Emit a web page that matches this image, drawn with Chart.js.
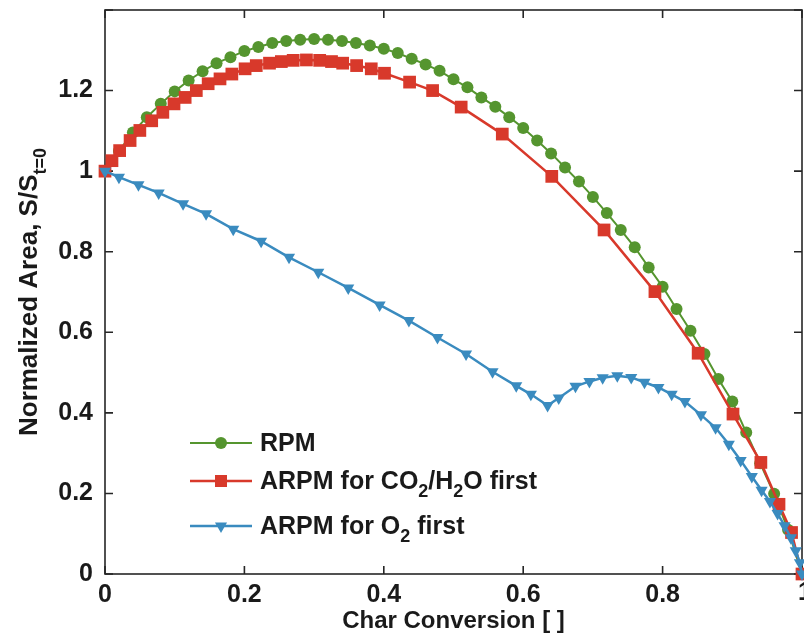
<!DOCTYPE html>
<html><head><meta charset="utf-8">
<script src="https://cdn.jsdelivr.net/npm/chart.js@4.4.1/dist/chart.umd.min.js"></script>
<style>html,body{margin:0;padding:0;background:#fff;overflow:hidden;}canvas{display:block;}</style>
</head><body><canvas id="c" width="804" height="638" style="width:804px;height:638px;"></canvas>
<script>
// ---- data ----
const rpmX = [0,0.02,0.04,0.06,0.08,0.10,0.12,0.14,0.16,0.18,0.20,0.22,0.24,0.26,0.28,0.30,0.32,0.34,0.36,0.38,0.40,0.42,0.44,0.46,0.48,0.50,0.52,0.54,0.56,0.58,0.60,0.62,0.64,0.66,0.68,0.70,0.72,0.74,0.76,0.78,0.80,0.82,0.84,0.86,0.88,0.90,0.92,0.94,0.96,0.98,1.00];
const rpmY = [1.000,1.050,1.096,1.134,1.167,1.198,1.225,1.248,1.268,1.283,1.298,1.308,1.318,1.323,1.326,1.328,1.326,1.323,1.318,1.312,1.304,1.293,1.279,1.265,1.249,1.228,1.208,1.183,1.160,1.134,1.107,1.076,1.044,1.009,0.974,0.936,0.896,0.854,0.811,0.761,0.713,0.658,0.604,0.546,0.484,0.428,0.351,0.275,0.199,0.110,0.000];

const co2X = [0,0.010,0.021,0.036,0.050,0.067,0.083,0.099,0.115,0.131,0.148,0.165,0.182,0.201,0.217,0.236,0.253,0.270,0.289,0.308,0.325,0.341,0.361,0.382,0.401,0.437,0.470,0.511,0.570,0.641,0.716,0.789,0.851,0.901,0.941,0.967,0.985,1.000];
const co2Y = [1.000,1.026,1.051,1.076,1.101,1.125,1.146,1.167,1.183,1.200,1.217,1.229,1.241,1.254,1.262,1.268,1.272,1.275,1.276,1.275,1.272,1.268,1.262,1.254,1.243,1.221,1.200,1.159,1.092,0.987,0.854,0.701,0.548,0.397,0.277,0.173,0.103,0.000];

const o2X = [0,0.020,0.048,0.077,0.112,0.145,0.184,0.224,0.264,0.306,0.349,0.394,0.436,0.477,0.518,0.556,0.590,0.611,0.635,0.651,0.675,0.695,0.714,0.735,0.755,0.774,0.794,0.813,0.832,0.855,0.876,0.895,0.912,0.928,0.942,0.954,0.965,0.975,0.984,0.991,0.997,1.000];
const o2Y = [1.000,0.985,0.966,0.946,0.919,0.894,0.856,0.826,0.786,0.749,0.710,0.668,0.629,0.587,0.546,0.502,0.467,0.446,0.418,0.437,0.466,0.478,0.487,0.492,0.488,0.476,0.463,0.446,0.428,0.395,0.363,0.322,0.282,0.242,0.208,0.180,0.150,0.120,0.090,0.058,0.028,0.000];

const seriesNames = ['RPM', 'ARPM for CO2/H2O first', 'ARPM for O2 first'];
const legendMarkup = ['RPM', 'ARPM for CO_2/H_2O first', 'ARPM for O_2 first'];
const xTickLabels = ['0', '0.2', '0.4', '0.6', '0.8', '1'];
const yTickLabels = ['0', '0.2', '0.4', '0.6', '0.8', '1', '1.2'];
const xTitle = 'Char Conversion [ ]';
const yTitleMain = 'Normalized Area, S/S';
const yTitleSub = 't=0';

// ---- styling ----
const FONT = '"Liberation Sans", Arial, Helvetica, sans-serif';
const TICKFONT = {family: FONT, size: 25, weight: 'bold'};
const colors = ['#55952f', '#d8392b', '#3a8bbf'];
const toPts = (xs, ys) => xs.map((v, i) => ({x: v, y: ys[i]}));

const datasets = [
  {label: seriesNames[0], data: toPts(rpmX, rpmY), borderColor: colors[0], backgroundColor: colors[0],
   borderWidth: 2, pointStyle: 'circle', pointRadius: 6, order: 3},
  {label: seriesNames[1], data: toPts(co2X, co2Y), borderColor: colors[1], backgroundColor: colors[1],
   borderWidth: 2.5, pointStyle: 'rect', pointRadius: 9, order: 2},
  {label: seriesNames[2], data: toPts(o2X, o2Y), borderColor: colors[2], backgroundColor: colors[2],
   borderWidth: 2.5, pointStyle: 'triangle', pointRotation: 180, pointRadius: 7, order: 1}
].map(d => Object.assign(d, {tension: 0, clip: false, pointBorderWidth: 0, fill: false}));

// frame with inward ticks on all four sides + the clipped last x label
const framePlugin = {
  id: 'frame',
  beforeDatasetsDraw(chart) {
    const {ctx, chartArea: a, scales: {x, y}} = chart;
    ctx.save();
    ctx.strokeStyle = '#262626';
    ctx.lineWidth = 1.6;
    ctx.strokeRect(a.left, a.top, a.right - a.left, a.bottom - a.top);
    const L = 8;
    ctx.beginPath();
    x.ticks.forEach(t => {
      const px = x.getPixelForValue(t.value);
      ctx.moveTo(px, a.bottom); ctx.lineTo(px, a.bottom - L);
      ctx.moveTo(px, a.top); ctx.lineTo(px, a.top + L);
    });
    y.ticks.forEach(t => {
      const py = y.getPixelForValue(t.value);
      ctx.moveTo(a.left, py); ctx.lineTo(a.left + L, py);
      ctx.moveTo(a.right, py); ctx.lineTo(a.right - L, py);
    });
    ctx.stroke();
    // last x tick label (runs off the canvas edge as in the reference)
    ctx.fillStyle = '#1a1a1a';
    ctx.font = 'bold 25px ' + FONT;
    ctx.textAlign = 'center';
    ctx.textBaseline = 'middle';
    ctx.fillText(xTickLabels[5], x.getPixelForValue(1) + 3, 593);
    ctx.restore();
  }
};

function drawRich(ctx, markup, x, y, size, sub) {
  const parts = [];
  for (let i = 0; i < markup.length; i++) {
    if (markup[i] === '_' && i + 1 < markup.length) { parts.push({t: markup[i + 1], s: true}); i++; }
    else {
      if (parts.length && !parts[parts.length - 1].s) parts[parts.length - 1].t += markup[i];
      else parts.push({t: markup[i], s: false});
    }
  }
  let cx = x;
  parts.forEach(p => {
    if (p.s) {
      ctx.font = 'bold ' + sub + 'px ' + FONT;
      ctx.fillText(p.t, cx, y + size * 0.42);
    } else {
      ctx.font = 'bold ' + size + 'px ' + FONT;
      ctx.fillText(p.t, cx, y);
    }
    cx += ctx.measureText(p.t).width;
  });
}

const legendPlugin = {
  id: 'customLegend',
  afterDraw(chart) {
    const {ctx} = chart;
    const rows = [443, 481, 526];
    const x0 = 190, x1 = 252, tx = 260;
    ctx.save();
    chart.data.datasets.forEach((ds, i) => {
      const yy = rows[i];
      ctx.strokeStyle = ds.borderColor;
      ctx.lineWidth = ds.borderWidth;
      ctx.beginPath(); ctx.moveTo(x0, yy); ctx.lineTo(x1, yy); ctx.stroke();
      ctx.fillStyle = ds.backgroundColor;
      Chart.helpers.drawPoint(ctx, {pointStyle: ds.pointStyle, rotation: ds.pointRotation || 0,
        radius: i === 0 ? 6 : (i === 1 ? 8.5 : 7), borderWidth: 0}, (x0 + x1) / 2, yy);
      ctx.fillStyle = '#1a1a1a';
      ctx.textBaseline = 'middle';
      ctx.textAlign = 'left';
      drawRich(ctx, legendMarkup[i], tx, yy + 1, 25, 18);
    });
    // y axis title with subscript
    ctx.translate(30, 292);
    ctx.rotate(-Math.PI / 2);
    ctx.fillStyle = '#1a1a1a';
    ctx.textBaseline = 'middle';
    ctx.textAlign = 'left';
    ctx.font = 'bold 26px ' + FONT;
    const w1 = ctx.measureText(yTitleMain).width;
    ctx.font = 'bold 18px ' + FONT;
    const w2 = ctx.measureText(yTitleSub).width;
    drawRich(ctx, yTitleMain + '_' + yTitleSub.split('').join('_'), -(w1 + w2) / 2, 0, 26, 18);
    ctx.restore();
  }
};

new Chart(document.getElementById('c'), {
  type: 'line',
  data: {datasets},
  plugins: [framePlugin, legendPlugin],
  options: {
    responsive: false,
    maintainAspectRatio: false,
    animation: false,
    events: [],
    devicePixelRatio: 1,
    layout: {autoPadding: false, padding: {top: 10, right: 2, bottom: 0, left: 0}},
    plugins: {legend: {display: false}, tooltip: {enabled: false}, title: {display: false}},
    scales: {
      x: {
        type: 'linear', min: 0, max: 1,
        grid: {display: false, drawTicks: false},
        border: {display: false},
        ticks: {
          stepSize: 0.2, padding: 6, color: '#1a1a1a', maxRotation: 0, autoSkip: false,
          font: TICKFONT,
          callback: v => { const k = Math.round(v * 5); return k < 5 ? xTickLabels[k] : ''; }
        },
        title: {display: true, text: xTitle, color: '#1a1a1a', padding: {top: 0, bottom: 2},
          font: {family: FONT, size: 24, weight: 'bold'}},
        afterFit: s => { s.height = 64; s.paddingLeft = 0; s.paddingRight = 0; }
      },
      y: {
        type: 'linear', min: 0, max: 1.4,
        grid: {display: false, drawTicks: false},
        border: {display: false},
        ticks: {
          stepSize: 0.2, padding: 12, color: '#1a1a1a', autoSkip: false,
          font: TICKFONT,
          callback: v => { const k = Math.round(v * 5); return yTickLabels[k] !== undefined ? yTickLabels[k] : ''; }
        },
        afterFit: s => { s.width = 105; s.paddingTop = 0; s.paddingBottom = 0; }
      }
    }
  }
});
</script></body></html>
